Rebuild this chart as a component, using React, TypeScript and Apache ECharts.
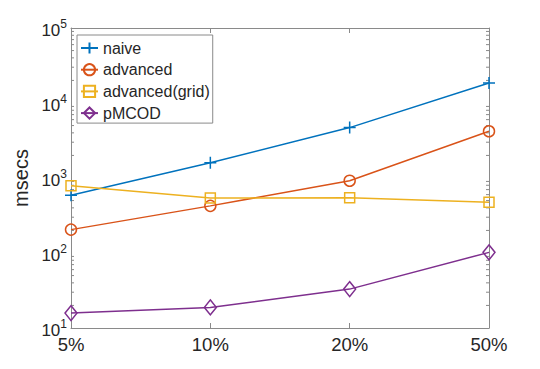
import React, { useEffect, useRef } from "react";
import * as echarts from "echarts";

const categories = ["5%", "10%", "20%", "50%"];
const naive = [590, 1600, 4700, 18500];
const advanced = [205, 425, 920, 4200];
const advancedGrid = [790, 540, 545, 475];
const pmcod = [15.8, 18.8, 33, 102];
const seriesNames = ["naive", "advanced", "advanced(grid)", "pMCOD"];
const colors = ["#0072BD", "#D95319", "#EDB120", "#7E2F8E"];
const yMin = 10;
const yMax = 100000;

const FONT = "Liberation Sans";
const AXIS = "#8a8a8a";
const TEXT = "#262626";

export default function App() {
  const ref = useRef<HTMLDivElement>(null);
  useEffect(() => {
    if (!ref.current) return;
    const chart = echarts.init(ref.current, undefined, { renderer: "svg" });
    const minorTicks: number[] = [];
    for (let d = yMin; d < yMax; d *= 10) {
      for (let m = 2; m <= 9; m++) minorTicks.push(d * m);
    }
    const mk = (i: number, data: number[], symbol: string, size: any) => ({
      name: seriesNames[i],
      type: "line",
      data,
      symbol,
      symbolSize: size,
      lineStyle: { width: 1.5, color: colors[i] },
      itemStyle: { color: "none", borderColor: colors[i], borderWidth: 1.5 },
      z: 3,
    });
    const option: any = {
      animation: false,
      backgroundColor: "#fff",
      textStyle: { fontFamily: FONT },
      grid: { left: 71, right: 51, top: 28, bottom: 41, containLabel: false, outerBoundsMode: "none" },
      legend: {
        data: seriesNames,
        orient: "vertical",
        left: 77,
        top: 35,
        backgroundColor: "#fff",
        borderColor: AXIS,
        borderWidth: 1,
        borderRadius: 0,
        padding: [4.5, 3, 1.5, 3],
        itemWidth: 17,
        itemHeight: 14,
        itemGap: 4.7,
        textStyle: { fontSize: 16, lineHeight: 17, color: TEXT, fontFamily: FONT },
      },
      xAxis: [
        {
          type: "category",
          data: categories,
          boundaryGap: false,
          axisLine: { lineStyle: { color: AXIS, width: 1 } },
          axisTick: { inside: true, length: 5, lineStyle: { color: AXIS } },
          axisLabel: { fontSize: 18.5, color: TEXT, margin: 7, fontFamily: FONT },
          splitLine: { show: false },
        },
        {
          type: "category",
          data: categories,
          boundaryGap: false,
          position: "top",
          axisLine: { lineStyle: { color: AXIS, width: 1 } },
          axisTick: { inside: true, length: 5, lineStyle: { color: AXIS } },
          axisLabel: { show: false },
          splitLine: { show: false },
        },
      ],
      yAxis: [
        {
          type: "log",
          logBase: 10,
          min: yMin,
          max: yMax,
          splitNumber: 4,
          name: "msecs",
          nameLocation: "middle",
          nameGap: 39,
          nameRotate: 90,
          nameTextStyle: { fontSize: 20, color: TEXT, fontFamily: FONT },
          axisLine: { show: true, lineStyle: { color: AXIS, width: 1 } },
          axisTick: { inside: true, length: 5, lineStyle: { color: AXIS } },
          splitLine: { show: false },
          axisLabel: {
            margin: 4,
            color: TEXT,
            formatter: (v: number) => `{b|10}{s|${Math.round(Math.log10(v))}}`,
            rich: {
              b: { fontSize: 17, color: TEXT, fontFamily: FONT, verticalAlign: "bottom" },
              s: { fontSize: 12, color: TEXT, fontFamily: FONT, verticalAlign: "bottom", padding: [0, 0, 9, 0] },
            },
          },
        },
        {
          type: "log",
          logBase: 10,
          min: yMin,
          max: yMax,
          splitNumber: 4,
          position: "right",
          axisLine: { show: true, lineStyle: { color: AXIS, width: 1 } },
          axisTick: { inside: true, length: 5, lineStyle: { color: AXIS } },
          axisLabel: { show: false },
          splitLine: { show: false },
        },
      ],
      series: [
        mk(0, naive, "path://M0,6L12,6M6,0L6,12", 12),
        mk(1, advanced, "circle", 11),
        mk(2, advancedGrid, "rect", 10),
        mk(3, pmcod, "diamond", [12, 15]),
        {
          type: "custom",
          silent: true,
          xAxisIndex: 0,
          yAxisIndex: 0,
          data: minorTicks.map((v) => [0, v]),
          renderItem: (params: any, api: any) => {
            const p = api.coord([0, api.value(1)]);
            const cs = params.coordSys;
            const st = { stroke: AXIS, lineWidth: 1 };
            return {
              type: "group",
              children: [
                { type: "line", shape: { x1: cs.x, y1: p[1], x2: cs.x + 3, y2: p[1] }, style: st },
                { type: "line", shape: { x1: cs.x + cs.width - 3, y1: p[1], x2: cs.x + cs.width, y2: p[1] }, style: st },
              ],
            };
          },
          z: 1,
        },
      ],
    };
    chart.setOption(option);
    return () => chart.dispose();
  }, []);
  return (
    <div
      ref={ref}
      style={{ position: "fixed", left: 0, top: 0, width: 540, height: 369, background: "#fff" }}
    />
  );
}
